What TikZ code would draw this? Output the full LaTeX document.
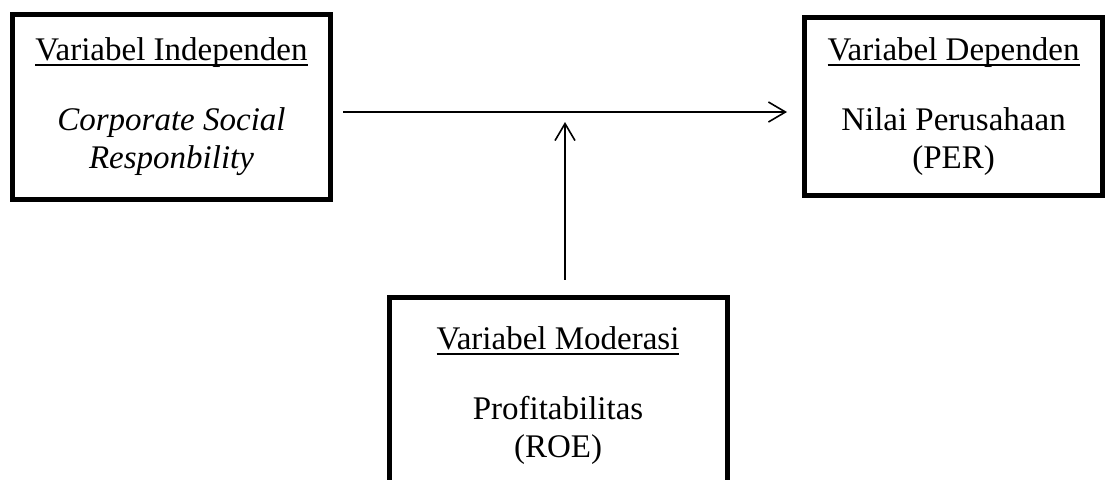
\documentclass[tikz,border=0pt]{standalone}
\usepackage{fontspec}
\setmainfont{Liberation Serif}
\usetikzlibrary{arrows.meta}
\newcommand\headline[1]{\setbox0\hbox{#1}\rlap{\rule[-2.6pt]{\wd0}{1pt}}\box0}

\begin{document}
\begin{tikzpicture}[x=0.5pt, y=-0.5pt,
  varbox/.style={draw, line width=2.5pt, align=center, inner sep=0pt,
    font=\fontsize{16.5}{19}\selectfont},
  link/.style={line width=0.8pt,
    -{Straight Barb[length=8.5pt, width=10pt, line width=0.8pt]}}]
  \useasboundingbox (0,0) rectangle (1106,479);
  \clip (0,0) rectangle (1106,479);
  % Variable boxes
  \node[varbox, minimum width=159pt, minimum height=92.5pt] (indep) at (171.5,107)
    {\headline{Variabel Independen}\\[16pt]
     \textit{Corporate Social}\\ \textit{Responbility}};
  \node[varbox, minimum width=149pt, minimum height=89pt] (dep) at (953.5,106.5)
    {\headline{Variabel Dependen}\\[16pt]
     Nilai Perusahaan\\ (PER)};
  \node[varbox, minimum width=169pt, minimum height=99pt] (mod) at (558,396)
    {\headline{Variabel Moderasi}\\[16pt]
     Profitabilitas\\ (ROE)};
  % Arrows
  \coordinate (meet) at (565,112);
  \draw[link, shorten <=5pt, shorten >=7.5pt] (indep.east |- meet) -- (dep.west |- meet);
  \draw[link, shorten <=7.5pt, shorten >=5pt] (meet |- mod.north) -- (meet);
\end{tikzpicture}
\end{document}
